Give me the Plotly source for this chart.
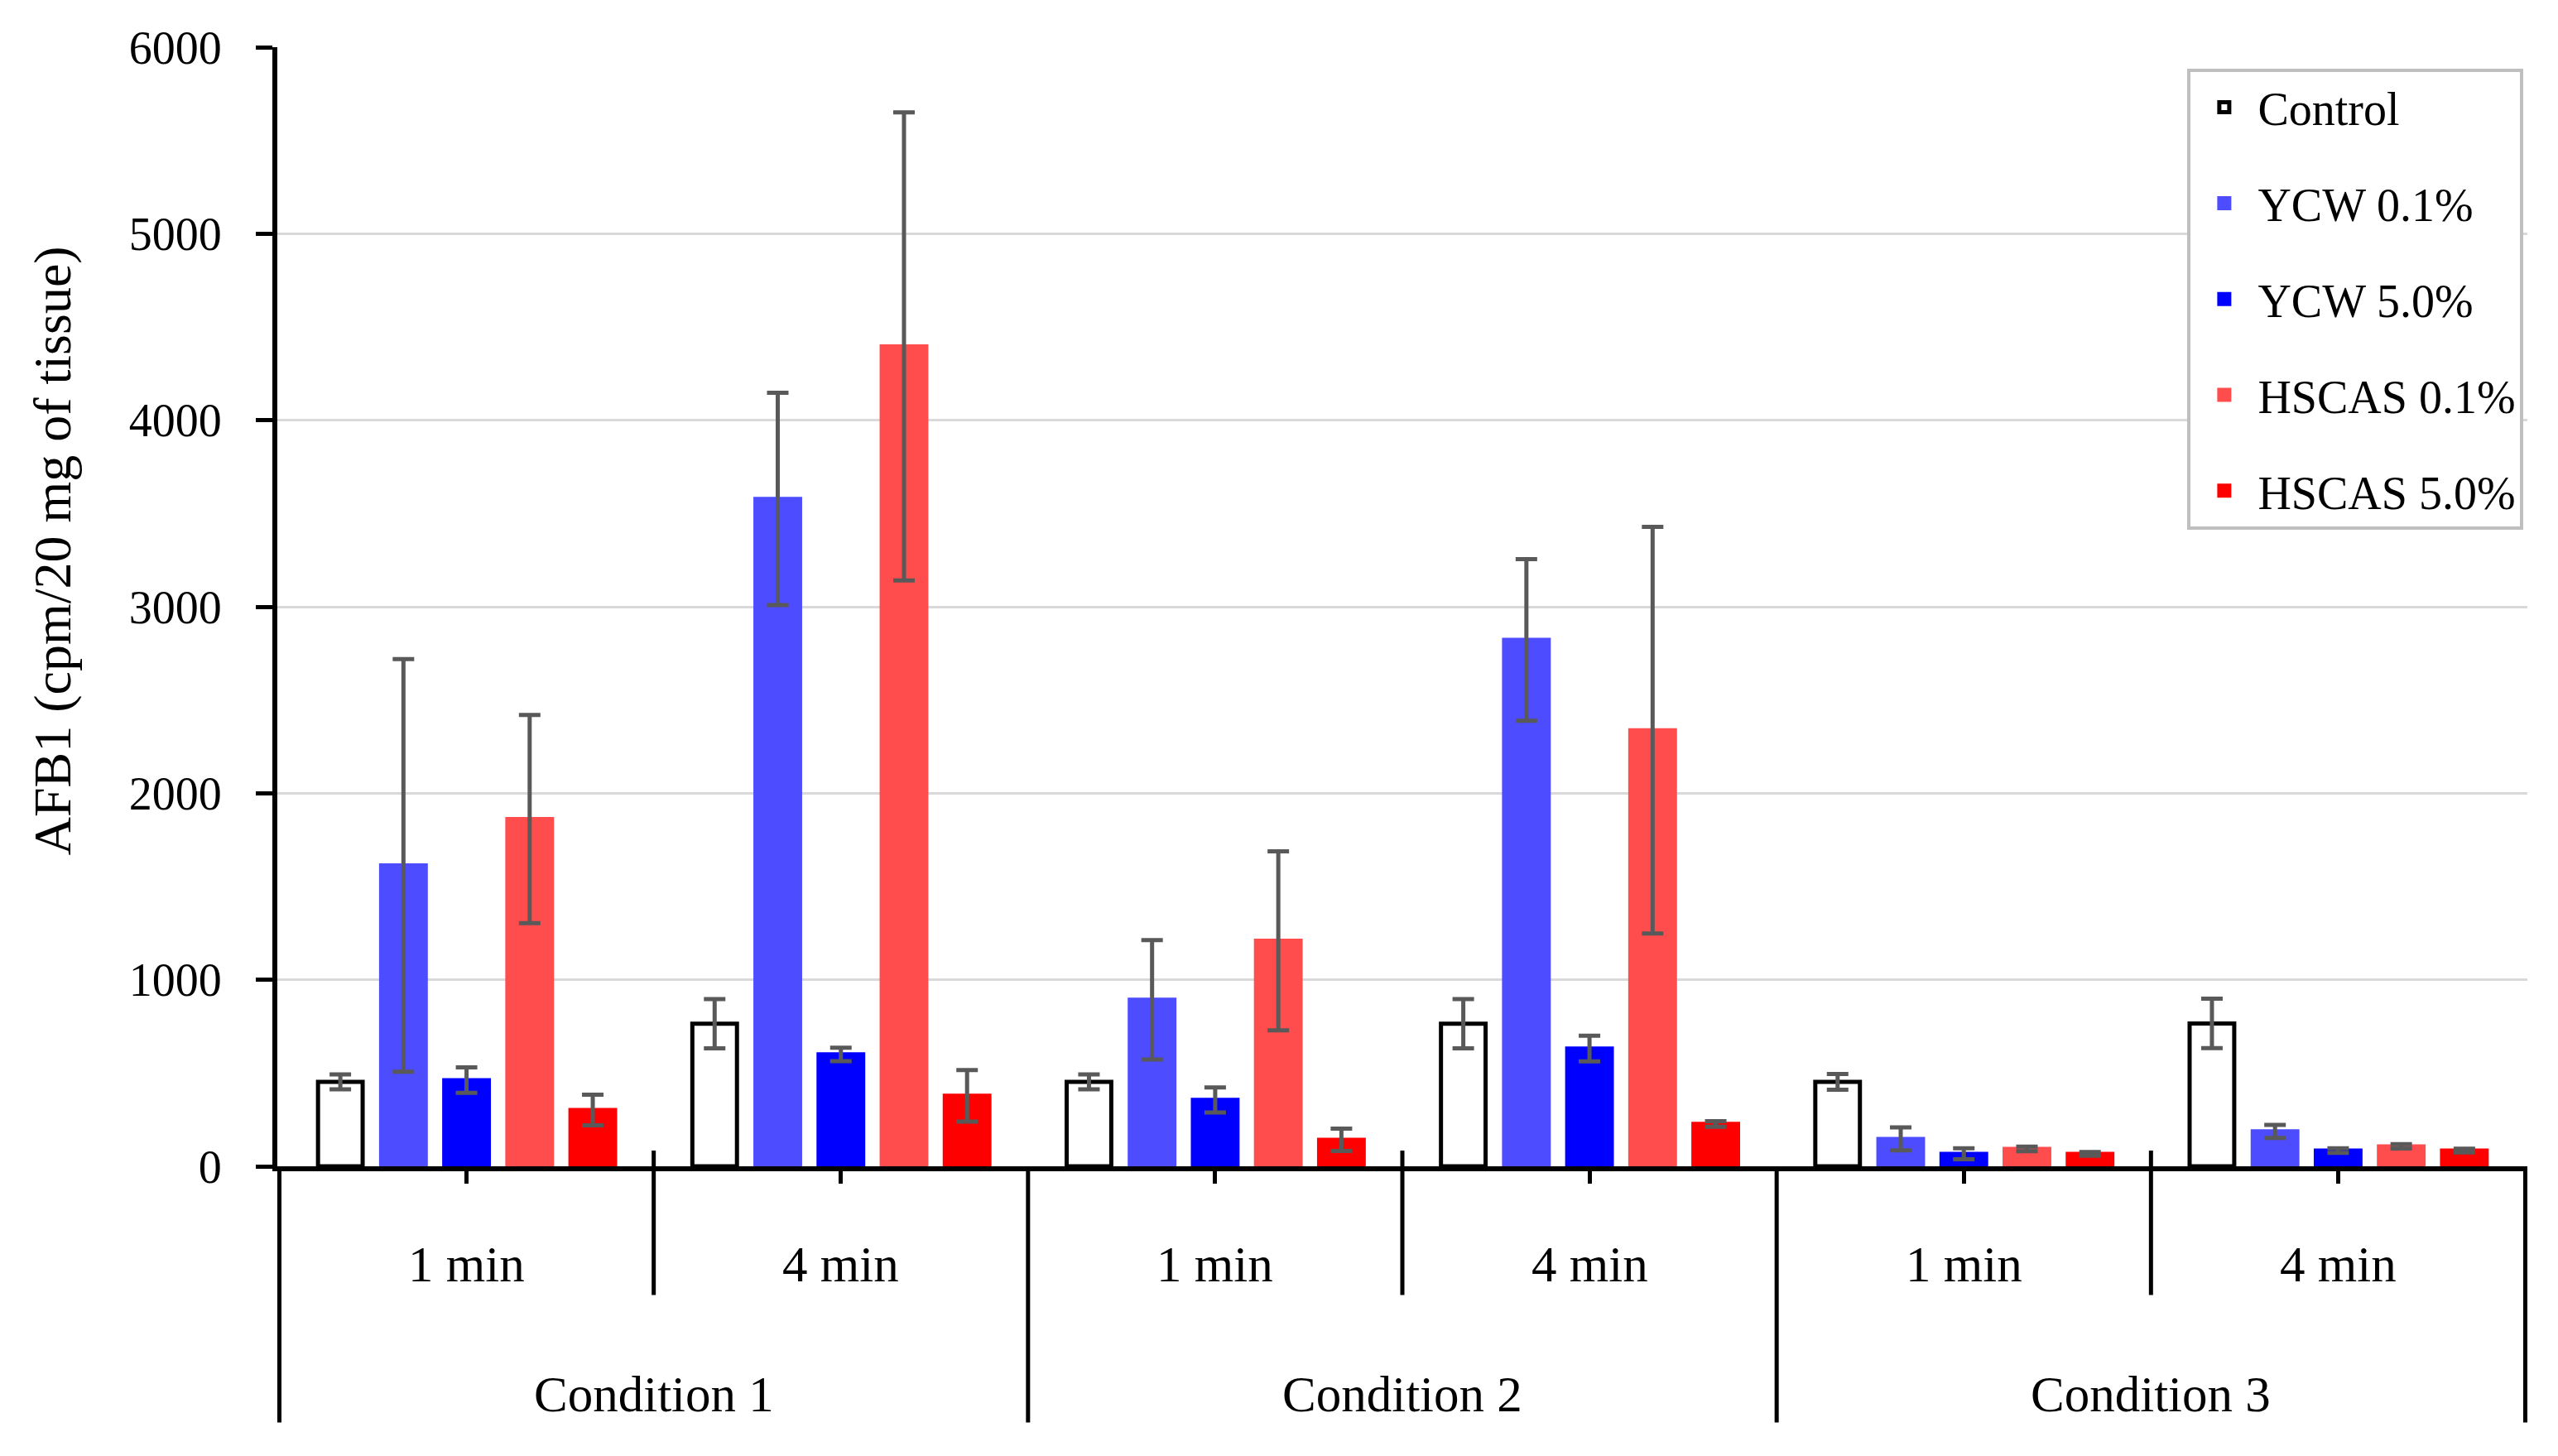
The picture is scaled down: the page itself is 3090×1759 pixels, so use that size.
import plotly.graph_objects as go

# ---------------- data ----------------
conditions = ["Condition 1", "Condition 2", "Condition 3"]
times = ["1 min", "4 min"]

series_names = ["Control", "YCW 0.1%", "YCW 5.0%", "HSCAS 0.1%", "HSCAS 5.0%"]
series_colors = ["#FFFFFF", "#4D4DFF", "#0000FF", "#FF4D4D", "#FF0000"]
series_outlines = ["#000000", "#4D4DFF", "#0000FF", "#FF4D4D", "#FF0000"]

control = [453, 764, 453, 764, 453, 766]
control_err = [40, 132, 40, 132, 42, 133]
ycw01 = [1613, 3578, 893, 2822, 147, 187]
ycw01_err = [1106, 569, 320, 433, 62, 35]
ycw50 = [462, 600, 356, 631, 67, 84]
ycw50_err = [68, 36, 67, 69, 29, 12]
hscas01 = [1862, 4396, 1209, 2338, 93, 107]
hscas01_err = [558, 1255, 480, 1090, 12, 12]
hscas50 = [302, 378, 142, 227, 67, 84]
hscas50_err = [82, 138, 60, 15, 10, 10]

y_ticks = [0, 1000, 2000, 3000, 4000, 5000, 6000]
y_title = "AFB1 (cpm/20 mg of tissue)"

series_values = [control, ycw01, ycw50, hscas01, hscas50]
series_errors = [control_err, ycw01_err, ycw50_err, hscas01_err, hscas50_err]

# category keys (one per condition/time pair)
cat_keys = [f"{c} | {t}" for c in conditions for t in times]

FONT = "Liberation Serif"

fig = go.Figure()
for name, col, outl, vals, errs in zip(series_names, series_colors, series_outlines,
                                        series_values, series_errors):
    fig.add_trace(go.Bar(
        name=name,
        x=cat_keys,
        y=vals,
        legendgroup=name,
        marker=dict(color=col, line=dict(color=outl, width=5)),
        error_y=dict(type="data", array=errs, visible=True,
                     color="#595959", thickness=5, width=13),
    ))

# ---------- category labels and dividers (below the axis) ----------
n_t = len(times)
annotations = []
shapes = []
for ci, cond in enumerate(conditions):
    for ti, t in enumerate(times):
        idx = ci * n_t + ti
        annotations.append(dict(x=idx, xref="x", y=-0.088, yref="paper",
                                text=t, showarrow=False,
                                font=dict(family=FONT, size=61, color="#000000"),
                                xanchor="center", yanchor="middle"))
    annotations.append(dict(x=ci * n_t + (n_t - 1) / 2, xref="x", y=-0.204, yref="paper",
                            text=cond, showarrow=False,
                            font=dict(family=FONT, size=61, color="#000000"),
                            xanchor="center", yanchor="middle"))
    # inner dividers between time groups
    for ti in range(1, n_t):
        xb = ci * n_t + ti - 0.5
        shapes.append(dict(type="line", xref="x", yref="paper",
                           x0=xb, x1=xb, y0=0.014, y1=-0.115,
                           line=dict(color="#000000", width=5)))
# major dividers between conditions
for ci in range(len(conditions) + 1):
    xb = ci * n_t - 0.5
    shapes.append(dict(type="line", xref="x", yref="paper",
                       x0=xb, x1=xb, y0=0, y1=-0.229,
                       line=dict(color="#000000", width=5)))

# y-axis title (placed like the original, slightly above the plot centre)
annotations.append(dict(x=-0.1001, xref="paper", y=0.55, yref="paper",
                        text=y_title, textangle=-90, showarrow=False,
                        font=dict(family=FONT, size=64, color="#000000"),
                        xanchor="center", yanchor="middle"))

fig.update_layout(
    width=3082, height=1751,
    margin=dict(l=327, r=37, t=49, b=350),
    paper_bgcolor="#FFFFFF", plot_bgcolor="#FFFFFF",
    barmode="group", bargap=0.157, bargroupgap=0.293,
    font=dict(family=FONT, size=56, color="#000000"),
    showlegend=True,
    legend=dict(x=0.9983, xanchor="right", y=0.981, yanchor="top",
                bgcolor="#FFFFFF", bordercolor="#BFBFBF", borderwidth=4,
                font=dict(family=FONT, size=56, color="#000000"),
                traceorder="grouped", tracegroupgap=40, itemwidth=71),
    annotations=annotations,
    shapes=shapes,
)

fig.update_xaxes(
    type="category",
    showticklabels=False,
    ticks="outside", ticklen=15, tickwidth=5, tickcolor="#000000",
    showline=True, linecolor="#000000", linewidth=6,
    showgrid=False, zeroline=False,
)
fig.update_yaxes(
    range=[0, 6000], tickvals=y_ticks,
    ticks="outside", ticklen=20, tickwidth=5, tickcolor="#000000",
    ticklabelstandoff=30,
    showline=True, linecolor="#000000", linewidth=6,
    showgrid=True, gridcolor="#D9D9D9", gridwidth=3,
    zeroline=False,
    tickfont=dict(family=FONT, size=56, color="#000000"),
)

fig.write_html("out.html")
